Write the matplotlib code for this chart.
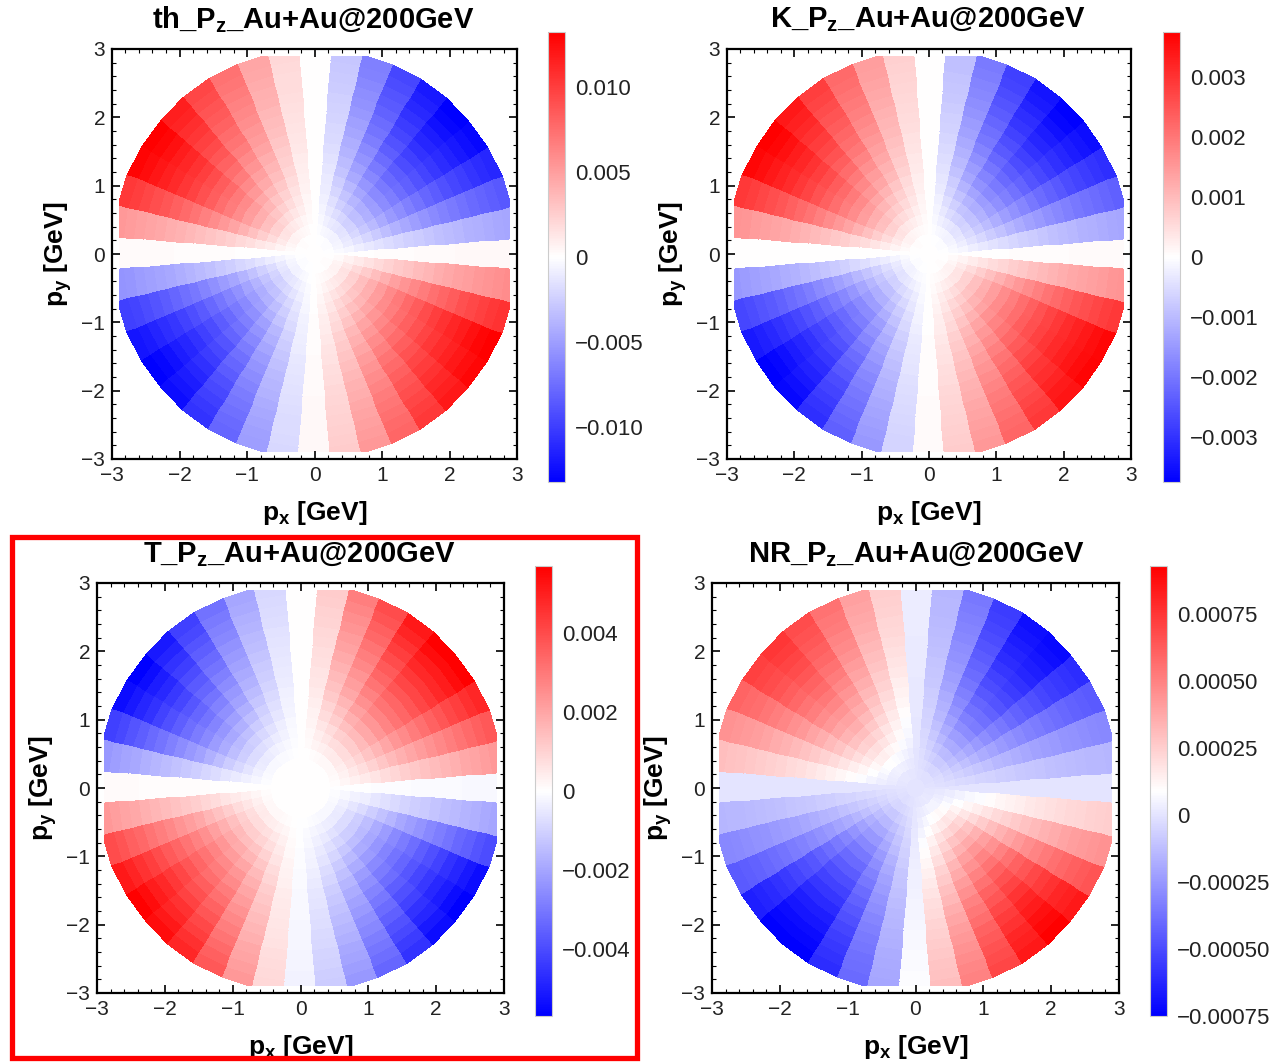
import numpy as np
import matplotlib.pyplot as plt
from matplotlib.colors import LinearSegmentedColormap
from matplotlib.patches import Rectangle
from matplotlib.ticker import MultipleLocator

plt.rcParams['font.family'] = ['Liberation Sans', 'DejaVu Sans']
plt.rcParams['mathtext.fontset'] = 'custom'
plt.rcParams['mathtext.rm'] = 'Liberation Sans'
plt.rcParams['mathtext.bf'] = 'Liberation Sans:bold'
plt.rcParams['mathtext.it'] = 'Liberation Sans:italic'

# azimuthal sectors: 40 bins of 9 deg centred on 0, 9, ..., 351 deg
phi_deg = np.arange(0, 360, 9)
# radial rings 0.15 GeV wide out to 3 GeV
r_edges = np.linspace(0.0, 3.0, 21)
# acceptance cut in |p_x|, |p_y|
p_cut = 2.9

# P_z on the outer ring, per sector (fraction of the colour-scale limit)
th_phi = [0.03, -0.35, -0.65, -0.85, -0.97, -1.00, -0.90, -0.72, -0.50, -0.22,
          0.00, 0.15, 0.35, 0.55, 0.72, 0.88, 1.00, 0.98, 0.78, 0.40,
          0.02, -0.42, -0.75, -0.92, -1.00, -0.95, -0.80, -0.60, -0.38, -0.15,
          0.03, 0.20, 0.40, 0.60, 0.78, 0.90, 0.97, 1.00, 0.80, 0.45]
k_phi = [0.02, -0.35, -0.62, -0.82, -0.95, -1.00, -0.92, -0.75, -0.52, -0.25,
         0.00, 0.18, 0.38, 0.58, 0.75, 0.90, 1.00, 0.97, 0.78, 0.42,
         0.00, -0.40, -0.72, -0.90, -1.00, -0.97, -0.82, -0.62, -0.40, -0.17,
         0.02, 0.20, 0.40, 0.60, 0.78, 0.92, 0.98, 0.97, 0.78, 0.42]
t_phi = [-0.03, 0.40, 0.65, 0.85, 1.00, 1.00, 0.90, 0.70, 0.50, 0.20,
         0.00, -0.15, -0.35, -0.55, -0.75, -0.90, -1.00, -0.95, -0.75, -0.40,
         0.02, 0.40, 0.70, 0.90, 1.00, 0.95, 0.85, 0.65, 0.40, 0.15,
         -0.05, -0.20, -0.40, -0.60, -0.80, -0.95, -1.00, -0.95, -0.70, -0.35]
# NR in units of 1e-4
nr_phi = [0.0, -1.5, -3.0, -4.5, -6.0, -7.2, -7.0, -5.5, -3.5, -1.5,
          0.3, 2.5, 4.0, 5.5, 6.8, 7.5, 7.2, 6.0, 4.5, 3.0,
          0.0, -1.5, -3.0, -4.5, -6.5, -7.5, -7.5, -6.0, -4.0, -2.0,
          0.8, 3.0, 5.0, 7.0, 8.5, 9.3, 8.5, 6.5, 4.5, 2.5]

# growth of |P_z| with p_T, one value per ring (centres 0.075 ... 2.925 GeV)
th_r = [0.0, 0.01, 0.05, 0.11, 0.18, 0.25, 0.32, 0.39, 0.46, 0.52,
        0.58, 0.64, 0.70, 0.75, 0.80, 0.85, 0.89, 0.93, 0.97, 1.00]
k_r = [0.0, 0.01, 0.05, 0.11, 0.18, 0.25, 0.32, 0.39, 0.46, 0.52,
       0.58, 0.64, 0.70, 0.75, 0.80, 0.85, 0.89, 0.93, 0.97, 1.00]
t_r = [0.0, 0.0, 0.0, 0.03, 0.08, 0.14, 0.20, 0.27, 0.34, 0.41,
       0.48, 0.54, 0.60, 0.66, 0.72, 0.78, 0.84, 0.89, 0.95, 1.00]
nr_r = [0.0, 0.02, 0.06, 0.12, 0.19, 0.26, 0.33, 0.40, 0.47, 0.53,
        0.59, 0.65, 0.71, 0.76, 0.81, 0.86, 0.90, 0.94, 0.97, 1.00]

th_lim = (-0.0132, 0.0132)
k_lim = (-0.00374, 0.00374)
t_lim = (-0.0057, 0.0057)
nr_lim = (-0.00075, 0.00093)

th_ticks = [-0.010, -0.005, 0.0, 0.005, 0.010]
th_labels = ['\u22120.010', '\u22120.005', '0', '0.005', '0.010']
k_ticks = [-0.003, -0.002, -0.001, 0.0, 0.001, 0.002, 0.003]
k_labels = ['\u22120.003', '\u22120.002', '\u22120.001', '0', '0.001', '0.002', '0.003']
t_ticks = [-0.004, -0.002, 0.0, 0.002, 0.004]
t_labels = ['\u22120.004', '\u22120.002', '0', '0.002', '0.004']
nr_ticks = [-0.00075, -0.00050, -0.00025, 0.0, 0.00025, 0.00050, 0.00075]
nr_labels = ['\u22120.00075', '\u22120.00050', '\u22120.00025', '0',
             '0.00025', '0.00050', '0.00075']

cmap = LinearSegmentedColormap.from_list('bwr_m', ['#0000ff', '#ffffff', '#ff0000'])

phi_edges = np.deg2rad(np.append(phi_deg, 360) - 4.5)
R, P = np.meshgrid(r_edges, phi_edges, indexing='ij')
X = R * np.cos(P)
Y = R * np.sin(P)

fig = plt.figure(figsize=(12.7, 10.63), dpi=100)
W, H = 1270.0, 1063.0


def px_axes(x0, y0, x1, y1):
    return fig.add_axes([x0 / W, 1 - y1 / H, (x1 - x0) / W, (y1 - y0) / H])


def panel(frame, cbar_box, title, title_xy, vals, lim, ticks, labels):
    ax = px_axes(*frame)
    cax = px_axes(*cbar_box)
    mesh = ax.pcolormesh(X, Y, vals, cmap=cmap, vmin=lim[0], vmax=lim[1],
                         shading='flat', edgecolors='face', linewidth=0.3)
    clip = Rectangle((-p_cut, -p_cut), 2 * p_cut, 2 * p_cut,
                     transform=ax.transData, visible=False)
    ax.add_patch(clip)
    mesh.set_clip_path(clip)
    ax.set_xlim(-3, 3)
    ax.set_ylim(-3, 3)
    ax.set_xticks(range(-3, 4))
    ax.set_yticks(range(-3, 4))
    ax.xaxis.set_minor_locator(MultipleLocator(0.2))
    ax.yaxis.set_minor_locator(MultipleLocator(0.2))
    ax.tick_params(which='both', direction='in', top=True, right=True,
                   labelsize=15, labelcolor='#222222', pad=5)
    ax.tick_params(which='major', length=6, width=1.2)
    ax.tick_params(which='minor', length=3, width=0.8)
    for s in ax.spines.values():
        s.set_linewidth(1.6)
    ax.set_xlabel(r'p$_\mathbf{x}$ [GeV]', fontsize=19, fontweight='bold', labelpad=10)
    ax.set_ylabel(r'p$_\mathbf{y}$ [GeV]', fontsize=19, fontweight='bold', labelpad=5)

    cb = fig.colorbar(mesh, cax=cax)
    cb.set_ticks(ticks)
    cb.set_ticklabels(labels)
    cb.outline.set_edgecolor('#cccccc')
    cb.outline.set_linewidth(0.8)
    cax.tick_params(length=0, pad=7, labelsize=16, labelcolor='#222222')

    fig.text(title_xy[0] / W, 1 - title_xy[1] / H, title, ha='center', va='center',
             fontsize=21, fontweight='bold')


panel((112, 49, 517, 459), (548, 32, 565, 482),
      r'th_P$_\mathbf{z}$_Au+Au@200GeV', (313, 20),
      th_lim[1] * np.outer(th_r, th_phi), th_lim, th_ticks, th_labels)
panel((727, 49, 1131, 459), (1163, 32, 1180, 482),
      r'K_P$_\mathbf{z}$_Au+Au@200GeV', (928, 20),
      k_lim[1] * np.outer(k_r, k_phi), k_lim, k_ticks, k_labels)
panel((97, 583, 504, 993), (535, 566, 552, 1016),
      r'T_P$_\mathbf{z}$_Au+Au@200GeV', (299, 555),
      t_lim[1] * np.outer(t_r, t_phi), t_lim, t_ticks, t_labels)
panel((712, 583, 1119, 993), (1150, 566, 1167, 1016),
      r'NR_P$_\mathbf{z}$_Au+Au@200GeV', (916, 555),
      1e-4 * np.outer(nr_r, nr_phi), nr_lim, nr_ticks, nr_labels)

# highlight box around the T panel
fig.patches.append(Rectangle((12 / W, 1 - 1058 / H), 625 / W, 521 / H,
                             transform=fig.transFigure, fill=False,
                             edgecolor='#ff0000', linewidth=3.8, zorder=10))

fig.savefig('out.png', dpi=100)
